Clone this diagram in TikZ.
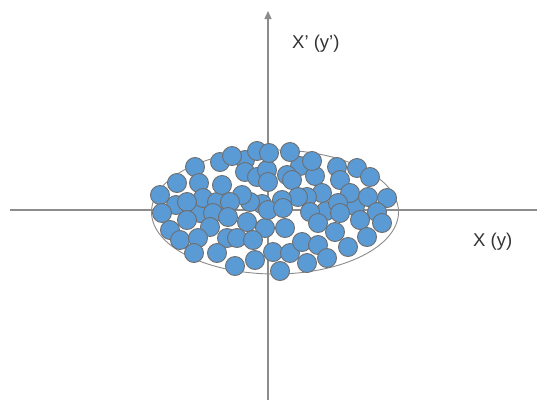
\documentclass[tikz,border=0pt]{standalone}
\usepackage{fontspec}
\setmainfont{Liberation Sans}
\usetikzlibrary{arrows.meta,shapes.geometric}
\definecolor{axisgray}{HTML}{8C8C8C}
\definecolor{dotblue}{HTML}{5B9BD5}
\definecolor{dotedge}{HTML}{6E6E6E}
\begin{document}
\begin{tikzpicture}[x=1pt,y=-1pt,
  axis/.style={draw=axisgray,line width=1.4pt},
  hull/.style={draw=dotedge!80,line width=0.9pt,ellipse,inner sep=0pt},
  dot/.style={fill=dotblue,draw=dotedge,line width=0.9pt},
  lab/.style={font=\fontsize{18.5}{20}\selectfont,text=black!80,inner sep=0pt}]
\useasboundingbox (0,0) rectangle (538,402);
\fill[white] (0,0) rectangle (538,402);
\coordinate (hl) at (10,210);
\coordinate (hr) at (537,210);
\coordinate (vb) at (268,400);
\coordinate (vt) at (268,11);
\draw[axis] (hl) -- (hr);
\draw[axis,-{Triangle[width=7pt,length=8pt]}] (vb) -- (vt);
\node[hull,minimum width=247pt,minimum height=124pt] (hullnode) at (275,212) {};
\foreach \x/\y in {
 245/160,300/166,326/211,355/206,200/213,176/205,
 160/195,162/213,170/230,180/240,177/183,195/167,220/162,232/156,
 199/183,203/198,217/202,222/185,187/202,187/220,
 245/172,257/177,267/170,268/182,287/175,292/180,315/176,
 257/151,269/153,290/152,312/161,337/167,357/168,370/177,
 340/180,350/193,368/197,322/193,307/197,298/197,282/200,262/204,250/202,242/195,230/202,338/203,
 387/198,377/212,382/223,
 213/213,228/217,247/222,265/228,285/228,268/210,283/208,
 310/212,318/223,335/232,340/213,360/220,
 210/227,198/238,227/238,237/238,253/240,273/252,290/253,302/242,318/245,
 367/237,348/247,327/258,307/263,280/271,255/260,235/266,217/253,194/253}
 {\draw[dot] (\x,\y) circle (9.5);}
\node[lab,anchor=west] (ylab) at (292,44) {X’ (y’)};
\node[lab,anchor=west] (xlab) at (473,242) {X (y)};
\end{tikzpicture}
\end{document}
